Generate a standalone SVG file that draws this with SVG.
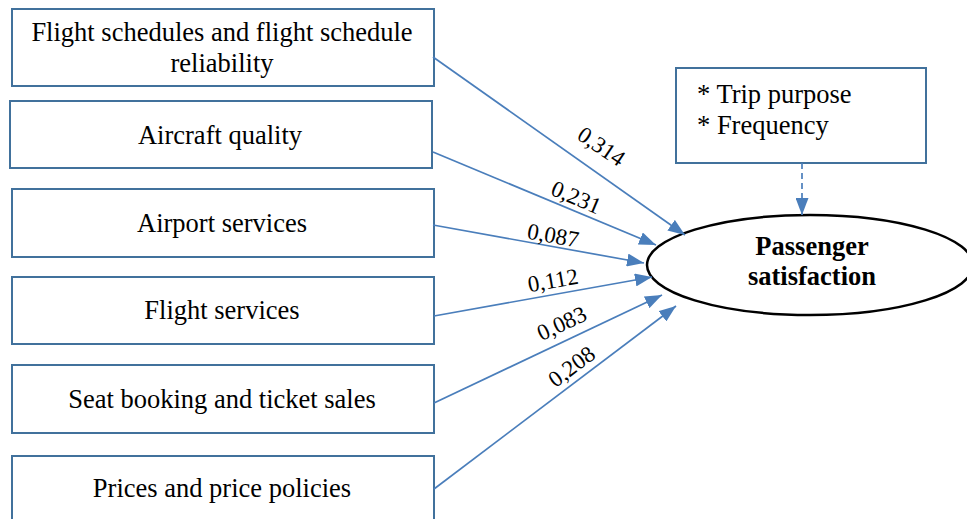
<svg xmlns="http://www.w3.org/2000/svg" width="967" height="519" viewBox="0 0 967 519">
<style>
.box{fill:#fff;stroke:#41719C;stroke-width:2}
.t{font-family:"Liberation Serif","Times New Roman",serif;font-size:26.5px;fill:#000}
.c{text-anchor:middle}
.b{font-weight:bold}
.lbl{font-family:"Liberation Serif","Times New Roman",serif;font-size:23px;fill:#000;text-anchor:middle}
.edge{stroke:#4A7EBB;stroke-width:1.7;fill:none}
</style>
<defs>
<marker id="ah" markerWidth="17" markerHeight="13" refX="17" refY="6.5" orient="auto" markerUnits="userSpaceOnUse">
<path d="M0,0 L17,6.5 L0,13 Z" fill="#4A7EBB"/>
</marker>
</defs>
<rect width="967" height="519" fill="#fff"/>
<g id="n1"><rect class="box" x="12" y="9" width="422" height="77"/>
<text class="t c" x="222" y="41">Flight schedules and flight schedule</text>
<text class="t c" x="222" y="72">reliability</text></g>
<g id="n2"><rect class="box" x="10" y="101" width="422" height="67"/>
<text class="t c" x="220" y="144">Aircraft quality</text></g>
<g id="n3"><rect class="box" x="12" y="189" width="422" height="68"/>
<text class="t c" x="222" y="232">Airport services</text></g>
<g id="n4"><rect class="box" x="12" y="277" width="422" height="67"/>
<text class="t c" x="222" y="319">Flight services</text></g>
<g id="n5"><rect class="box" x="12" y="365" width="422" height="68"/>
<text class="t c" x="222" y="408">Seat booking and ticket sales</text></g>
<g id="n6"><rect class="box" x="12" y="456" width="422" height="80"/>
<text class="t c" x="222" y="497">Prices and price policies</text></g>
<g id="mod"><rect class="box" x="676" y="68" width="250" height="95"/>
<text class="t" x="697" y="103">* Trip purpose</text>
<text class="t" x="697" y="134">* Frequency</text></g>
<g id="ps"><ellipse cx="810" cy="265" rx="163" ry="50" fill="#fff" stroke="#000" stroke-width="2.5"/>
<text class="t c b" x="812" y="255">Passenger</text>
<text class="t c b" x="812" y="285">satisfaction</text></g>
<g id="edges">
<line class="edge" x1="433" y1="57" x2="685" y2="235" marker-end="url(#ah)"/>
<line class="edge" x1="433" y1="152" x2="656" y2="245" marker-end="url(#ah)"/>
<line class="edge" x1="433" y1="225" x2="644" y2="263" marker-end="url(#ah)"/>
<line class="edge" x1="434" y1="316" x2="652" y2="277" marker-end="url(#ah)"/>
<line class="edge" x1="434" y1="403" x2="662" y2="295" marker-end="url(#ah)"/>
<line class="edge" x1="434" y1="489" x2="676" y2="306" marker-end="url(#ah)"/>
<line class="edge" x1="802" y1="163" x2="802" y2="215" stroke-dasharray="6,4" marker-end="url(#ah)"/>
<text class="lbl" transform="translate(601,147) rotate(34)" y="7">0,314</text>
<text class="lbl" transform="translate(576,198) rotate(23)" y="7">0,231</text>
<text class="lbl" transform="translate(553,236) rotate(10)" y="7">0,087</text>
<text class="lbl" transform="translate(553,281) rotate(-10)" y="7">0,112</text>
<text class="lbl" transform="translate(562,324) rotate(-25)" y="7">0,083</text>
<text class="lbl" transform="translate(572,367) rotate(-37)" y="7">0,208</text>
</g>
</svg>
